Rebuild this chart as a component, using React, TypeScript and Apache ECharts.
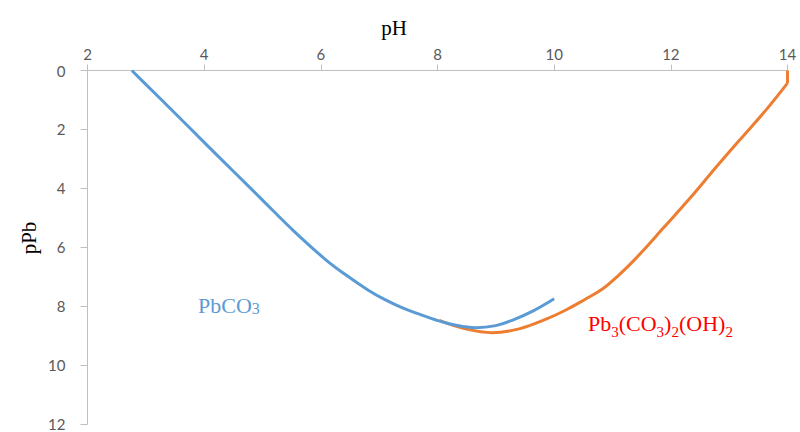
import React, { useEffect, useRef } from "react";
import * as echarts from "echarts";

const pbco3PH = [2.76, 3.0, 3.5, 4.0, 4.5, 5.0, 5.5, 6.07, 6.45, 6.8, 7.1, 7.39, 7.7, 7.96, 8.3, 8.65, 9.0, 9.28, 9.65, 10.0];
const pbco3PPb = [0, 0.47, 1.45, 2.44, 3.42, 4.4, 5.38, 6.4, 6.97, 7.44, 7.78, 8.05, 8.28, 8.46, 8.64, 8.73, 8.66, 8.48, 8.15, 7.75];

const hydroPH = [8.03, 8.5, 8.94, 9.4, 9.85, 10.2, 10.52, 10.84, 11.1, 11.38, 11.87, 12.33, 12.76, 13.18, 13.64, 14.0];
const hydroPPb = [8.48, 8.78, 8.9, 8.77, 8.45, 8.13, 7.78, 7.4, 6.96, 6.42, 5.35, 4.33, 3.32, 2.36, 1.32, 0.43];
const hydroTailPH = [14.0, 14.0];
const hydroTailPPb = [0.43, 0];

const xTicks = { min: 2, max: 14, step: 2 };
const yTicks = { min: 0, max: 12, step: 2 };

const serif = "'Liberation Serif', 'DejaVu Serif', serif";
const sans = "Lato, 'Open Sans', sans-serif";

export default function App() {
  const ref = useRef<HTMLDivElement>(null);
  useEffect(() => {
    if (!ref.current) return;
    const chart = echarts.init(ref.current, null, { renderer: "svg" });
    const axisLine = { show: true, lineStyle: { color: "#BFBFBF", width: 1 } };
    const orange = { color: "#ED7D31", width: 3 };
    chart.setOption({
      animation: false,
      backgroundColor: "#ffffff",
      grid: { left: 87.5, right: 12.5, top: 70.5, bottom: 8, containLabel: false, outerBoundsMode: "none" },
      xAxis: {
        type: "value",
        position: "top",
        min: xTicks.min,
        max: xTicks.max,
        interval: xTicks.step,
        axisLine,
        axisTick: { show: true, inside: false, length: 6, lineStyle: { color: "#BFBFBF" } },
        axisLabel: { color: "#595959", fontFamily: sans, fontSize: 15, margin: 9 },
        splitLine: { show: false },
      },
      yAxis: {
        type: "value",
        inverse: true,
        min: yTicks.min,
        max: yTicks.max,
        interval: yTicks.step,
        axisLine,
        axisTick: { show: true, inside: false, length: 7, lineStyle: { color: "#BFBFBF" } },
        axisLabel: { color: "#595959", fontFamily: sans, fontSize: 15, margin: 22 },
        splitLine: { show: false },
      },
      series: [
        {
          type: "line",
          name: "PbCO3",
          data: pbco3PH.map((x, i) => [x, pbco3PPb[i]]),
          showSymbol: false,
          smooth: 0.4,
          lineStyle: { color: "#5B9BD5", width: 3 },
          z: 3,
        },
        {
          type: "line",
          name: "Pb3(CO3)2(OH)2",
          data: hydroPH.map((x, i) => [x, hydroPPb[i]]),
          showSymbol: false,
          smooth: 0.4,
          lineStyle: orange,
          z: 2,
        },
        {
          type: "line",
          name: "Pb3(CO3)2(OH)2 tail",
          data: hydroTailPH.map((x, i) => [x, hydroTailPPb[i]]),
          showSymbol: false,
          lineStyle: orange,
          z: 2,
        },
      ],
      graphic: [
        {
          type: "text",
          x: 394,
          y: 28,
          style: { text: "pH", font: `21px ${serif}`, fill: "#000", align: "center", verticalAlign: "middle" },
        },
        {
          type: "text",
          x: 29,
          y: 238,
          rotation: Math.PI / 2,
          style: { text: "pPb", font: `21px ${serif}`, fill: "#000", align: "center", verticalAlign: "middle" },
        },
        {
          type: "text",
          x: 198,
          y: 305,
          style: {
            text: "{m|PbCO}{s|3}",
            verticalAlign: "middle",
            rich: {
              m: { fontFamily: serif, fontSize: 22, fill: "#5B9BD5", verticalAlign: "bottom" },
              s: { fontFamily: serif, fontSize: 16, fill: "#5B9BD5", verticalAlign: "bottom" },
            },
          },
        },
        {
          type: "text",
          x: 588,
          y: 323,
          style: {
            text: "{m|Pb}{s|3}{m|(CO}{s|3}{m|)}{s|2}{m|(OH)}{s|2}",
            verticalAlign: "middle",
            rich: {
              m: { fontFamily: serif, fontSize: 22, fill: "#FF0000", verticalAlign: "bottom" },
              s: { fontFamily: serif, fontSize: 15, fill: "#FF0000", verticalAlign: "bottom", padding: [0, 0, -5, 0] },
            },
          },
        },
      ],
    });
    return () => chart.dispose();
  }, []);
  return <div ref={ref} style={{ position: "fixed", left: 0, top: 0, width: 800, height: 432 }} />;
}
